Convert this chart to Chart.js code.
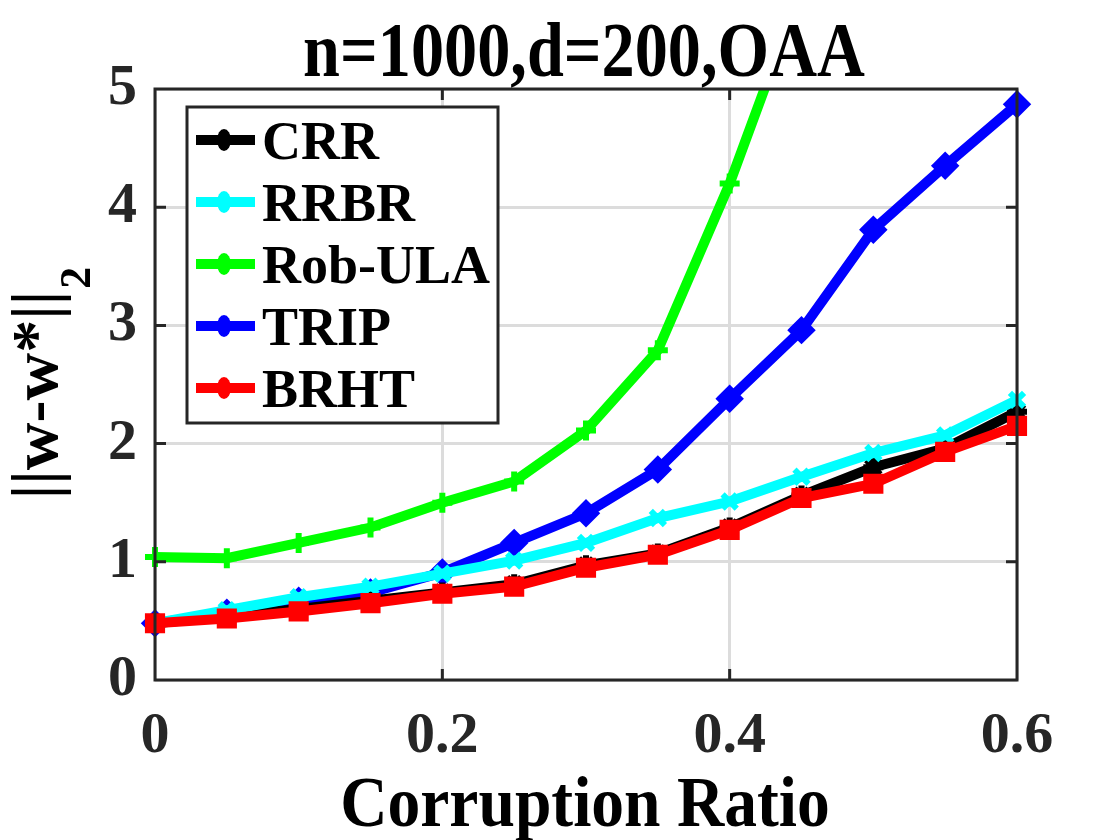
<!DOCTYPE html>
<html>
<head>
<meta charset="utf-8">
<script src="https://cdn.jsdelivr.net/npm/chart.js@4.4.1/dist/chart.umd.min.js"></script>
<style>
  html, body { margin: 0; padding: 0; background: #fff; }
</style>
</head>
<body>
<canvas id="c" width="1120" height="840"></canvas>
<script>
// corruption ratios (x axis)
const ratios = [0, 0.05, 0.1, 0.15, 0.2, 0.25, 0.3, 0.35, 0.4, 0.45, 0.5, 0.55, 0.6];

// ||w-w*||_2 per method
const crr    = [0.48, 0.54, 0.60, 0.67, 0.74, 0.81, 0.97, 1.07, 1.29, 1.56, 1.80, 1.96, 2.27];
const rrbr   = [0.48, 0.59, 0.70, 0.79, 0.90, 1.01, 1.16, 1.37, 1.51, 1.72, 1.92, 2.07, 2.37];
const robUla = [1.04, 1.03, 1.16, 1.29, 1.50, 1.68, 2.11, 2.79, 4.20, 5.85, null, null, null];
const trip   = [0.48, 0.57, 0.67, 0.74, 0.91, 1.16, 1.41, 1.78, 2.38, 2.96, 3.81, 4.35, 4.87];
const brht   = [0.48, 0.52, 0.58, 0.65, 0.73, 0.79, 0.95, 1.06, 1.27, 1.54, 1.66, 1.93, 2.15];

const xTicks = [0, 0.2, 0.4, 0.6];
const yTicks = [0, 1, 2, 3, 4, 5];

const SERIF = '"Liberation Serif", "Times New Roman", serif';
const AXIS = '#262626';

function pts(vals) {
    return ratios.map((r, i) => ({ x: r, y: vals[i] }));
}

function series(label, vals, color, style, order) {
    return {
        label: label,
        data: pts(vals),
        borderColor: color,
        backgroundColor: color,
        borderWidth: 10,
        pointStyle: style,
        pointRadius: 10,
        pointBorderWidth: 6,
        pointBackgroundColor: color,
        pointBorderColor: color,
        order: order,
        clip: { left: 20, right: 20, top: 0, bottom: 20 }
    };
}

const datasets = [
    series('CRR', crr, '#000000', 'star', 2),
    series('RRBR', rrbr, '#00ffff', 'crossRot', 1),
    series('Rob-ULA', robUla, '#00ff00', 'cross', 4),
    series('TRIP', trip, '#0000ff', 'rectRot', 3),
    series('BRHT', brht, '#ff0000', 'rect', 0)
];

function squeezed(ctx, text, x, y, size, sx, align) {
    ctx.save();
    ctx.font = 'bold ' + size + 'px ' + SERIF;
    ctx.translate(x, y);
    ctx.scale(sx, 1);
    ctx.textAlign = align || 'center';
    ctx.textBaseline = 'alphabetic';
    ctx.fillStyle = '#000';
    ctx.fillText(text, 0, 0);
    ctx.restore();
}

// matlab style decorations: box, inner ticks, legend, title, labels
const matlabLook = {
    id: 'matlabLook',
    beforeDraw(chart) {
        const ctx = chart.ctx;
        ctx.save();
        ctx.fillStyle = '#fff';
        ctx.fillRect(0, 0, chart.width, chart.height);
        ctx.restore();
    },
    afterDatasetsDraw(chart) {
        const ctx = chart.ctx;
        const a = chart.chartArea;
        const xs = chart.scales.x, ys = chart.scales.y;

        ctx.save();
        ctx.strokeStyle = AXIS;
        ctx.lineWidth = 3;
        ctx.strokeRect(a.left, a.top, a.right - a.left, a.bottom - a.top);

        ctx.beginPath();
        xTicks.slice(1, -1).forEach(v => {
            const px = xs.getPixelForValue(v);
            ctx.moveTo(px, a.bottom); ctx.lineTo(px, a.bottom - 11);
            ctx.moveTo(px, a.top); ctx.lineTo(px, a.top + 11);
        });
        yTicks.slice(1, -1).forEach(v => {
            const py = ys.getPixelForValue(v);
            ctx.moveTo(a.left, py); ctx.lineTo(a.left + 11, py);
            ctx.moveTo(a.right, py); ctx.lineTo(a.right - 11, py);
        });
        ctx.stroke();

        // legend
        const lx = 187, ly = 107, lw = 311, lh = 316;
        ctx.fillStyle = '#fff';
        ctx.fillRect(lx, ly, lw, lh);
        ctx.strokeStyle = AXIS;
        ctx.lineWidth = 3;
        ctx.strokeRect(lx, ly, lw, lh);
        const rowY = [140, 202, 264, 326, 388];
        datasets.forEach((ds, i) => {
            const y = rowY[i];
            ctx.strokeStyle = ds.borderColor;
            ctx.lineWidth = 10;
            ctx.beginPath();
            ctx.moveTo(196, y); ctx.lineTo(255, y);
            ctx.stroke();
            ctx.fillStyle = ds.borderColor;
            ctx.beginPath();
            ctx.ellipse(224, y, 7, 11, 0, 0, Math.PI * 2);
            ctx.fill();
            ctx.font = 'bold 54px ' + SERIF;
            ctx.fillStyle = '#000';
            ctx.textAlign = 'left';
            ctx.textBaseline = 'alphabetic';
            ctx.fillText(ds.label, 262, y + 19);
        });
        ctx.restore();

        // title and x label
        squeezed(ctx, 'n=1000,d=200,OAA', 584, 76, 78, 0.85);
        squeezed(ctx, 'Corruption Ratio', 585, 826, 72, 0.91);

        // y label with subscript
        ctx.save();
        ctx.fillStyle = '#000';
        ctx.font = 'bold 66px "Liberation Serif"';
        const main = '||w-w*||';
        const mw = ctx.measureText(main).width;
        ctx.font = 'bold 44px "Liberation Serif"';
        const sw = ctx.measureText('2').width;
        ctx.translate(57, 384 + (mw + sw) / 2);
        ctx.rotate(-Math.PI / 2);
        ctx.textAlign = 'left';
        ctx.textBaseline = 'alphabetic';
        ctx.font = 'bold 66px "Liberation Serif"';
        ctx.fillText(main, 0, 0);
        ctx.font = 'bold 44px "Liberation Serif"';
        ctx.fillText('2', mw + 2, 33);
        ctx.restore();
    }
};

new Chart(document.getElementById('c'), {
    type: 'line',
    data: { datasets: datasets },
    plugins: [matlabLook],
    options: {
        responsive: false,
        animation: false,
        layout: { padding: { left: 0, right: 103, top: 89, bottom: 0 } },
        plugins: {
            legend: { display: false },
            tooltip: { enabled: false }
        },
        scales: {
            x: {
                type: 'linear',
                min: 0,
                max: 0.6,
                afterBuildTicks: s => { s.ticks = xTicks.map(v => ({ value: v })); },
                afterFit: s => { s.height = 160; },
                border: { display: false },
                grid: { color: '#dcdcdc', lineWidth: 3, drawTicks: false },
                ticks: {
                    padding: 22,
                    color: '#262626',
                    font: { family: SERIF, size: 58, weight: 'bold' },
                    callback: v => String(+v.toFixed(1))
                }
            },
            y: {
                min: 0,
                max: 5,
                afterBuildTicks: s => { s.ticks = yTicks.map(v => ({ value: v })); },
                afterFit: s => { s.width = 155; },
                border: { display: false },
                grid: { color: '#dcdcdc', lineWidth: 3, drawTicks: false },
                ticks: {
                    padding: 18,
                    color: '#262626',
                    font: { family: SERIF, size: 58, weight: 'bold' }
                }
            }
        }
    }
});
</script>
</body>
</html>
